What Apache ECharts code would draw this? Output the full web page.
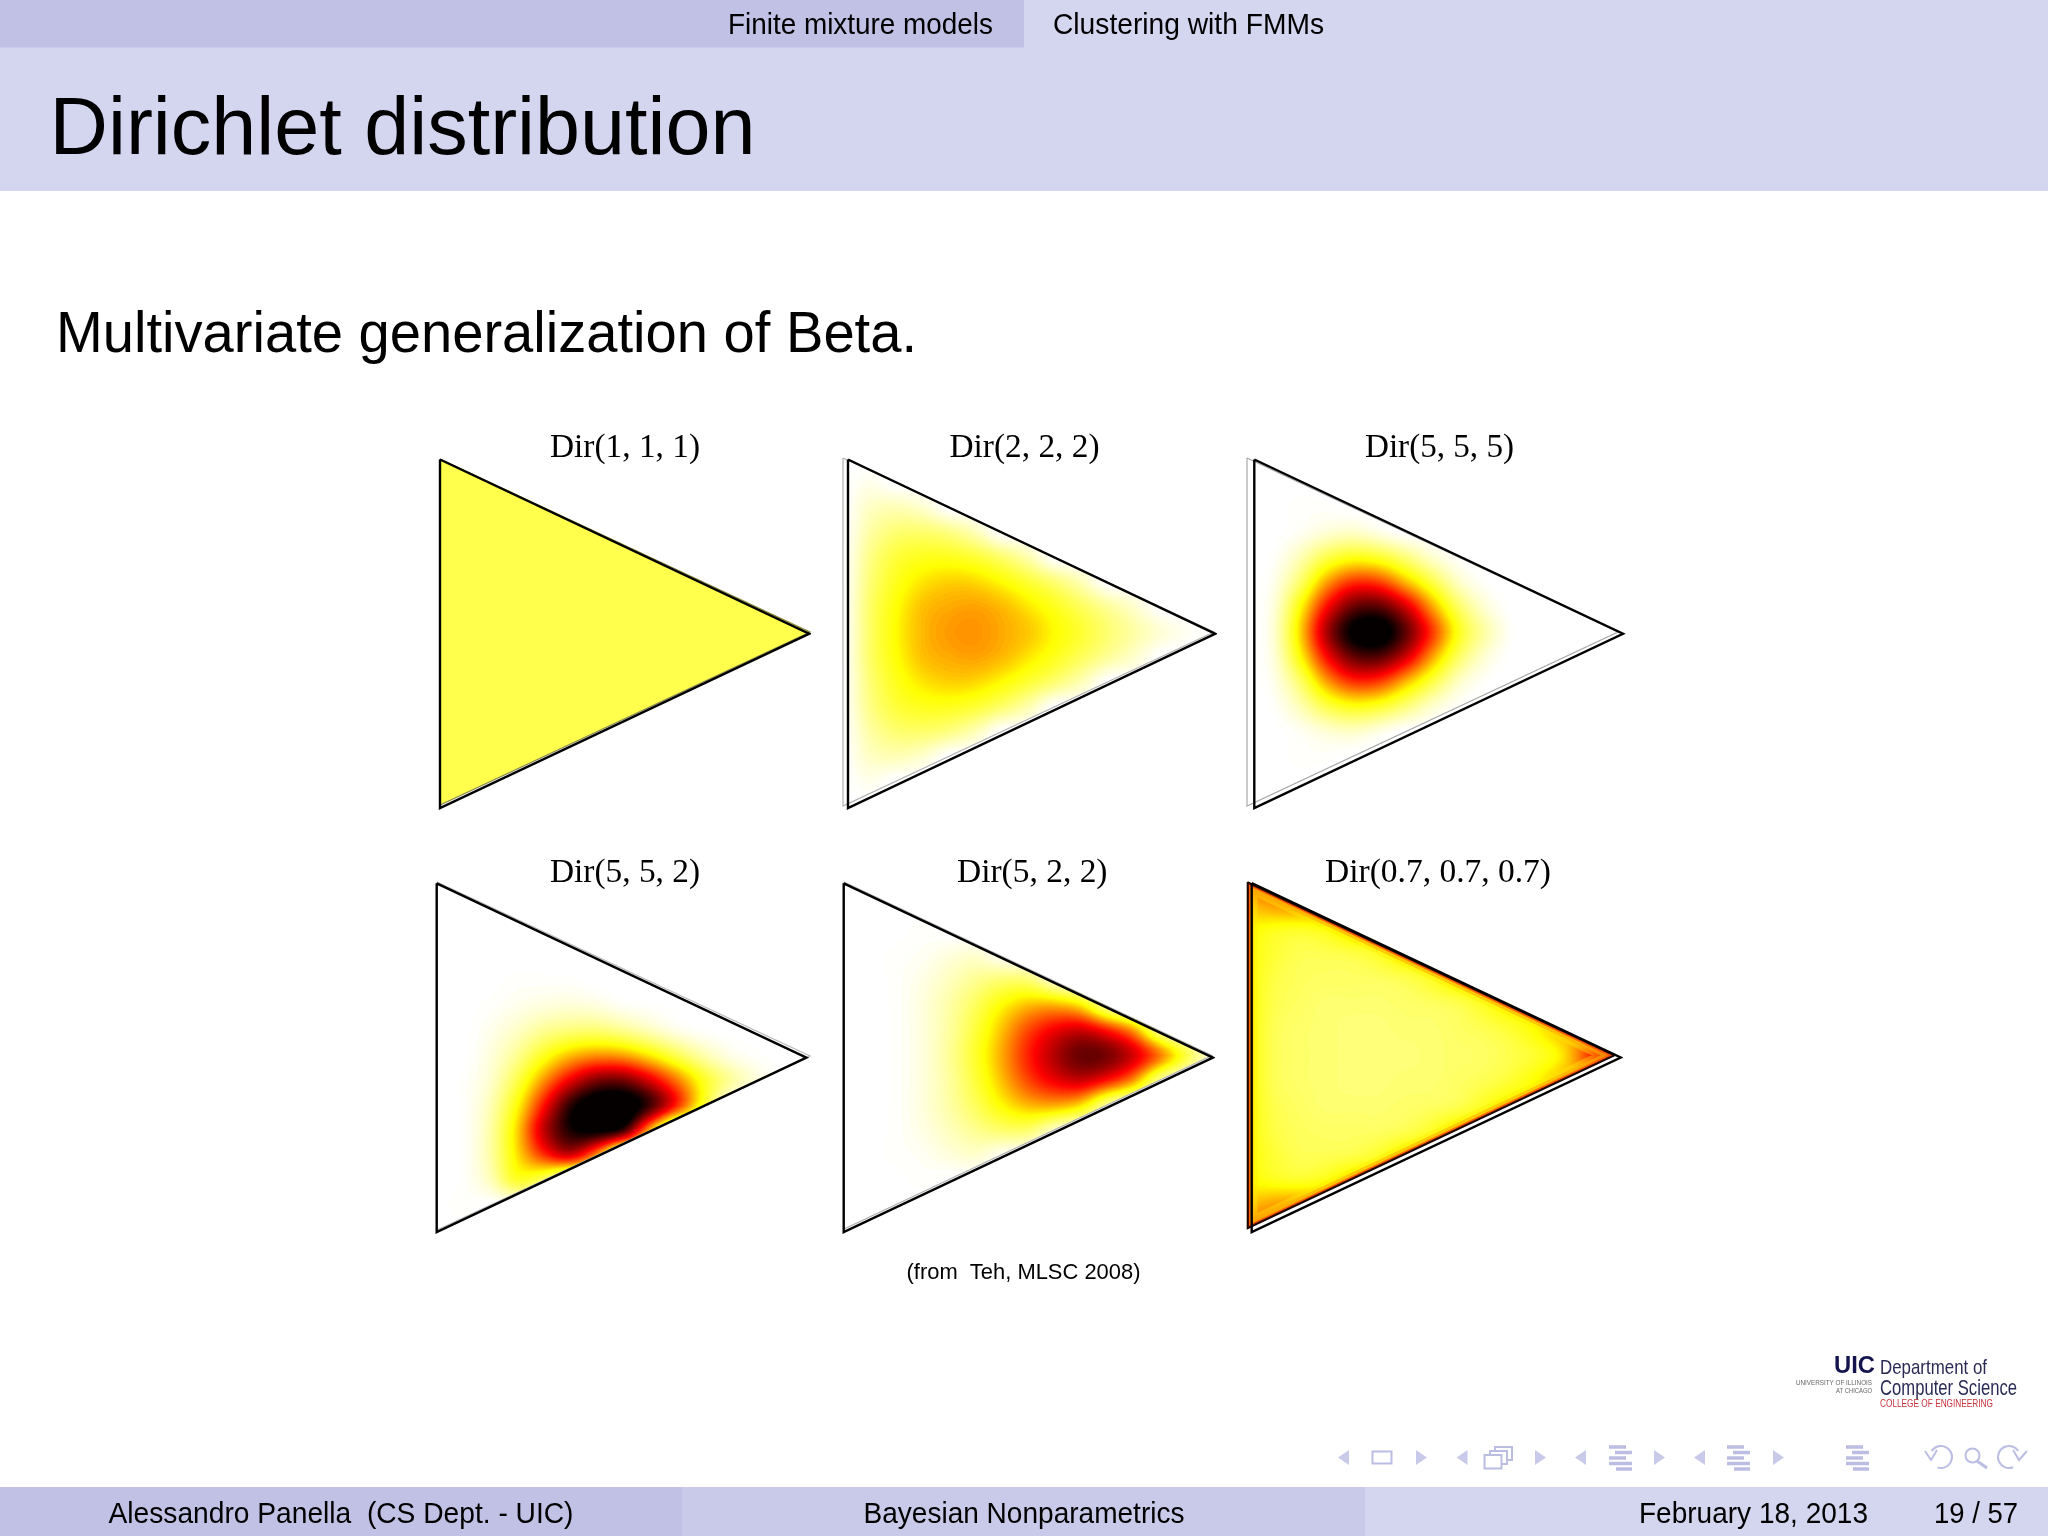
<!DOCTYPE html>
<html><head><meta charset="utf-8">
<style>html,body{margin:0;padding:0;background:#fff}#c{width:2048px;height:1536px}</style>
<script src="https://cdn.jsdelivr.net/npm/echarts@6/dist/echarts.min.js"></script>
</head><body><div id="c"></div>
<script>
// Estimated density (percent of colour scale); rows top to bottom, cells left to right.
const dir111 = [
[24,24],[24,24,24,24],[24,24,24,24,24,24],[24,24,24,24,24,24,24,24],[24,24,24,24,24,24,24,24,24,24],
[24,24,24,24,24,24,24,24,24,24,24,24],[24,24,24,24,24,24,24,24,24,24,24,24,24,24],
[24,24,24,24,24,24,24,24,24,24,24,24,24,24,24,24],
[24,24,24,24,24,24,24,24,24,24,24,24,24,24],[24,24,24,24,24,24,24,24,24,24,24,24],
[24,24,24,24,24,24,24,24,24,24],[24,24,24,24,24,24,24,24],[24,24,24,24,24,24],[24,24,24,24],[24,24]];
const dir222 = [
[0,0],[0,3,0,0],[0,8,10,7,0,0],[0,12,19,20,17,10,0,0],[0,16,26,30,30,27,20,11,0,0],
[0,18,30,37,40,39,34,27,19,10,0,0],[0,20,33,42,45,46,43,37,30,22,14,7,0,0],
[0,20,34,43,47,48,45,41,34,27,19,12,6,2,0,0],
[0,20,33,42,45,46,43,37,30,22,14,7,0,0],[0,18,30,37,40,39,34,27,19,10,0,0],
[0,16,26,30,30,27,20,11,0,0],[0,12,19,20,17,10,0,0],[0,8,10,7,0,0],[0,3,0,0],[0,0]];
const dir555 = [
[0,0],[0,0,0,0],[0,0,1,1,0,0],[0,0,2,6,8,4,0,0],[0,1,10,24,31,28,18,7,1,0],
[0,3,20,46,61,59,43,25,8,1,0,0],[0,5,33,66,87,89,73,46,21,6,0,0,0,0],
[0,6,39,78,102,106,88,60,30,12,1,0,0,0,0,0],
[0,5,33,66,87,89,73,46,21,6,0,0,0,0],[0,3,20,46,61,59,43,25,8,1,0,0],
[0,1,10,24,31,28,18,7,1,0],[0,0,2,6,8,4,0,0],[0,0,1,1,0,0],[0,0,0,0],[0,0]];
const dir552 = [
[0,0],[0,0,0,0],[0,0,0,0,0,0],[0,0,0,0,0,0,0,0],[0,0,0,1,1,1,0,0,0,0],
[0,0,1,3,5,6,5,2,1,0,0,0],[0,0,3,8,15,19,20,16,10,4,1,0,0,0],
[0,0,5,15,30,43,49,47,37,24,12,4,1,0,0,0],
[0,1,7,24,48,70,85,86,72,52,30,14,5,0],[0,1,10,33,65,95,108,108,92,62,28,0],
[0,1,12,39,75,97,102,92,42,0],[0,1,12,37,60,72,46,0],[0,1,9,28,20,0],[0,1,0,0],[0,0]];
const dir522 = [
[0,0],[0,0,0,0],[0,0,0,1,0,0],[0,0,1,2,5,7,2,0],[0,0,1,4,9,15,20,20,8,0],
[0,0,1,5,12,22,34,43,45,38,14,0],[0,0,1,5,13,26,42,58,69,74,65,48,15,0],
[0,0,1,5,14,28,45,63,77,87,85,73,52,26,5,0],
[0,0,1,5,13,26,42,58,69,74,65,48,15,0],[0,0,1,5,12,22,34,43,45,38,14,0],
[0,0,1,4,9,15,20,20,8,0],[0,0,1,2,5,7,2,0],[0,0,0,1,0,0],[0,0,0,0],[0,0]];
const dir777 = [
[55,55],[42,46,48,48],[34,30,28,31,38,38],[33,27,23,23,24,28,35,35],[33,25,22,21,21,21,23,28,35,35],
[33,24,21,19,19,19,20,21,23,29,35,35],[33,23,20,19,18,18,19,19,21,23,27,34,42,42],
[33,23,20,19,18,18,18,19,20,21,24,28,37,60,85,85],
[33,23,20,19,18,18,19,19,21,23,27,34,42,42],[33,24,21,19,19,19,20,21,23,29,35,35],
[33,25,22,21,21,21,23,28,35,35],[33,27,23,23,24,28,35,35],[34,30,28,31,38,38],[42,46,48,48],[55,55]];
const panelTables = [dir111, dir222, dir555, dir552, dir522, dir777];
const panelLabels = ['Dir(1, 1, 1)','Dir(2, 2, 2)','Dir(5, 5, 5)','Dir(5, 5, 2)','Dir(5, 2, 2)','Dir(0.7, 0.7, 0.7)'];
const simplexOutline = [[0,0],[14,7],[0,14],[0,0]];
const contourLevels = [0.5,1.5,2.5,3.5,4.5,5.5,6.5,7.5,8.5,9.5,10.5,11.5,12.5,13.5,14.5,15.5,16.5,17.5,18.5,19.5,20.5,21.5,22.5,23.5,24.5,25.5,26.5,27.5,28.5,29.5,30.5,31.5,32.5,33.5,34.5,35.5,36.5,37.5,38.5,39.5,40.5,41.5,42.5,43.5,44.5,45.5,46.5,47.5,48.5,49.5,50.5,51.5,52.5,53.5,54.5,55.5,56.5,57.5,58.5,59.5,60.5,61.5,62.5,63.5,64.5,65.5,66.5,67.5,68.5,69.5,70.5,71.5,72.5,73.5,74.5,75.5,76.5,77.5,78.5,79.5,80.5,81.5,82.5,83.5,84.5,85.5,86.5,87.5,88.5,89.5,90.5,91.5,92.5,93.5,94.5,95.5,96.5,97.5,98.5,99.5];
const hotColors = ['#ffffff','#ffff80','#ffff00','#ff8000','#ff0000','#800000','#000000'];

// layout of fill frames and outline frames: left, top, width, height
const fillFrames = [[440,459,370,346],[843,458,371,348],[1247,458,371,348],[437,882,373,348],[844,882,368,347],[1247.5,882,367.5,346.5]];
const lineFrames = [[440,459.5,369,348.5],[848,459.5,367,348.5],[1254.3,459.5,368.7,348.5],[436.7,883.3,369.7,348.7],[843.7,883.3,369.2,348.7],[1251.7,883,369,349]];
const ghostColors = ['#8a8a50','#b0b0b0','#a8a8a8','#b8b8b8','#b0b0b0','#1a0800'];
const labelBoxes = [[550,150,459.3],[949.5,150,459.3],[1365,149,459.3],[550,150,884.6],[957,150.5,884.6],[1325,226,884.6]];
const bandStrokes = [[20,'rgba(255,235,0,0.4)'],[12,'rgba(255,170,0,0.6)'],[6,'rgba(255,70,0,0.75)'],[3,'rgba(70,0,0,0.85)']];
const SUB = 4;

// smooth display of a typed table between its cells
function lookup(t,i,j){const r=t[Math.max(0,Math.min(14,j))];return r[Math.max(0,Math.min(r.length-1,i))];}
function cr(a,b,c,d,s){return b+.5*s*(c-a+s*(2*a-5*b+4*c-d+s*(3*(b-c)+d-a)));}
function sample(t,x,y){const i=Math.floor(x),j=Math.floor(y),fx=x-i,fy=y-j,col=[];
  for(let m=-1;m<3;m++)col.push(cr(lookup(t,i-1,j+m),lookup(t,i,j+m),lookup(t,i+1,j+m),lookup(t,i+2,j+m),fx));
  return cr(col[0],col[1],col[2],col[3],fy);}
const fineTables = panelTables.map(t=>{const n=14*SUB,m=[];
  for(let j=0;j<=n;j++){const r=[];for(let i=0;i<=n;i++)r.push(sample(t,i/SUB,j/SUB));m.push(r);}return m;});

echarts.graphic.registerShape('levelRegion',echarts.graphic.extendShape({
  type:'levelRegion',shape:{polys:[]},
  buildPath(ctx,shape){for(const p of shape.polys){ctx.moveTo(p[0],p[1]);
    for(let k=2;k<p.length;k+=2)ctx.lineTo(p[k],p[k+1]);ctx.closePath();}}
}));
function regionAbove(f,level,api){const polys=[],n=14*SUB;
  const pt=(x,y)=>api.coord([x/SUB,y/SUB]);
  for(let j=0;j<n;j++){let run=-1;
    for(let i=0;i<=n;i++){
      const full=i<n&&f[j][i]>=level&&f[j][i+1]>=level&&f[j+1][i]>=level&&f[j+1][i+1]>=level;
      if(full){if(run<0)run=i;continue;}
      if(run>=0){const a=pt(run,j),b=pt(i,j+1);polys.push([a[0],a[1],b[0],a[1],b[0],b[1],a[0],b[1]]);run=-1;}
      if(i==n)break;
      const cs=[[i,j,f[j][i]],[i+1,j,f[j][i+1]],[i+1,j+1,f[j+1][i+1]],[i,j+1,f[j+1][i]]];
      const out=[];
      for(let k=0;k<4;k++){const A=cs[k],B=cs[(k+1)%4],ai=A[2]>=level,bi=B[2]>=level;
        if(ai){const q=pt(A[0],A[1]);out.push(q[0],q[1]);}
        if(ai!==bi){const s=(level-A[2])/(B[2]-A[2]),q=pt(A[0]+s*(B[0]-A[0]),A[1]+s*(B[1]-A[1]));out.push(q[0],q[1]);}}
      if(out.length>=6)polys.push(out);
    }}
  return polys;}

const cvs = document.createElement('canvas').getContext('2d');
function fit(text,x,base,w,size,o){o=o||{};
  const fam=o.fam||'"Liberation Sans"',wt=o.bold?'bold ':'',font=wt+size+'px '+fam;
  cvs.font=font;const m=cvs.measureText(text).width;const mid=o.fam?0.3375:0.3465;
  return {type:'text',x:x,y:base-mid*size,scaleX:w/m,silent:true,z:10,
    style:{text:text,font:font,fill:o.fill||'#000',align:'left',verticalAlign:'middle'}};}
const rect=(x,y,w,h,fill)=>({type:'rect',silent:true,z:0,shape:{x,y,width:w,height:h},style:{fill}});
const navC='#bcbde3';
function larr(x){return {type:'polygon',silent:true,shape:{points:[[x+11,1450],[x+11,1465],[x,1457.5]]},style:{fill:navC,opacity:.8}};}
function rarr(x){return {type:'polygon',silent:true,shape:{points:[[x,1450],[x,1465],[x+11,1457.5]]},style:{fill:navC,opacity:.8}};}
const barRows=[[1447,0,17],[1452.5,6,17],[1458,0,17],[1463.5,0,23],[1469,7,16]];
function bars(x){return barRows.map(b=>rect(x+b[1],b[0]-1.75,b[2],3.5,navC));}
const chrome=[
 rect(0,0,2048,191,'#d4d5ef'),rect(0,0,1024,47.5,'#c0c1e5'),
 rect(0,1487,682,49,'#c0c1e5'),rect(682,1487,683,49,'#c9cae9'),rect(1365,1487,683,49,'#d4d5ef'),
 fit('Finite mixture models',728,35.6,265,29),fit('Clustering with FMMs',1053,35.6,271,29),
 fit('Dirichlet distribution',49.5,160,706,81),
 fit('Multivariate generalization of Beta.',56,356.5,861,58),
 fit('(from  Teh, MLSC 2008)',906.5,1280.6,234,21.7),
 fit('Alessandro Panella  (CS Dept. - UIC)',108.5,1524.6,465,29),
 fit('Bayesian Nonparametrics',863.5,1524.6,321,29),
 fit('February 18, 2013',1639,1524.6,229,29),fit('19 / 57',1934,1524.6,84,29),
 fit('UIC',1834,1375,41,23,{bold:true,fill:'#14144e'}),
 fit('Department of',1880,1375,107,21,{fill:'#2a2a55'}),
 fit('Computer Science',1880,1397,137,22,{fill:'#2a2a55'}),
 fit('COLLEGE OF ENGINEERING',1880,1408,113,10,{fill:'#c8323c'}),
 fit('UNIVERSITY OF ILLINOIS',1796,1385,76,7,{fill:'#666'}),
 fit('AT CHICAGO',1836,1393,36,7,{fill:'#666'}),
 larr(1338),{type:'rect',silent:true,shape:{x:1372.5,y:1451.5,width:19,height:12},style:{fill:'none',stroke:navC,lineWidth:2}},rarr(1416),
 larr(1456.5),
 {type:'rect',silent:true,shape:{x:1495,y:1447,width:17,height:13},style:{fill:'#fff',stroke:navC,lineWidth:2}},
 {type:'rect',silent:true,shape:{x:1490,y:1451,width:17,height:13},style:{fill:'#fff',stroke:navC,lineWidth:2}},
 {type:'rect',silent:true,shape:{x:1484.5,y:1455,width:17,height:13.5},style:{fill:'#fff',stroke:navC,lineWidth:2}},
 rarr(1535),larr(1575),...bars(1609),rarr(1654),larr(1694),...bars(1727),rarr(1773),...bars(1846),
 {type:'arc',silent:true,shape:{cx:1941,cy:1457,r:11,startAngle:-2.6,endAngle:1.9},style:{fill:'none',stroke:navC,lineWidth:2}},
 {type:'polyline',silent:true,shape:{points:[[1925,1451],[1931,1460],[1937,1450]]},style:{fill:'none',stroke:navC,lineWidth:2}},
 {type:'circle',silent:true,shape:{cx:1972.5,cy:1455.5,r:7},style:{fill:'none',stroke:navC,lineWidth:2}},
 {type:'line',silent:true,shape:{x1:1977,y1:1461,x2:1987,y2:1468},style:{stroke:navC,lineWidth:3}},
 {type:'arc',silent:true,shape:{cx:2009,cy:1457,r:11,startAngle:1.2,endAngle:5.7},style:{fill:'none',stroke:navC,lineWidth:2}},
 {type:'polyline',silent:true,shape:{points:[[2013,1450],[2019,1460],[2027,1451]]},style:{fill:'none',stroke:navC,lineWidth:2}},
 ...panelLabels.map((t,i)=>fit(t,labelBoxes[i][0],labelBoxes[i][2],labelBoxes[i][1],33,{fam:'"Liberation Serif"'}))
];

const grid=[],xAxis=[],yAxis=[],series=[],cellSeries=[];
function addGrid(f){grid.push({left:f[0],top:f[1],width:f[2],height:f[3],show:false});
  xAxis.push({type:'value',min:0,max:14,show:false,gridIndex:grid.length-1});
  yAxis.push({type:'value',min:0,max:14,inverse:true,show:false,gridIndex:grid.length-1});
  return grid.length-1;}
function clipOf(api){return {type:'polygon',shape:{points:simplexOutline.slice(0,3).map(p=>api.coord(p))}};}
panelTables.forEach((table,p)=>{
  const g=addGrid(fillFrames[p]);const fine=fineTables[p];
  cellSeries.push(series.length);
  series.push({type:'custom',xAxisIndex:g,yAxisIndex:g,z:2,silent:true,animation:false,
    data:contourLevels.map(l=>[l]),encode:{x:-1,y:-1},
    renderItem(params,api){const polys=regionAbove(fine,api.value(0),api);
      if(!polys.length)return null;
      return {type:'levelRegion',clipPath:clipOf(api),shape:{polys:polys},style:{fill:api.visual('color')}};}});
  if(table===dir777){
    series.push({type:'custom',xAxisIndex:g,yAxisIndex:g,z:3,silent:true,animation:false,data:[[0,0]],
      renderItem(params,api){const pts=simplexOutline.slice(0,3).map(q=>api.coord(q));
        return {type:'group',children:bandStrokes.map(b=>({type:'polygon',clipPath:clipOf(api),shape:{points:pts},style:{fill:'none',stroke:b[1],lineWidth:b[0],lineJoin:'miter'}}))};}});
  }
  series.push({type:'line',xAxisIndex:g,yAxisIndex:g,z:4,silent:true,animation:false,clip:false,symbol:'none',data:simplexOutline,
    lineStyle:{color:ghostColors[p],width:p==5?1.6:1.2,join:'miter'}});
  const h=addGrid(lineFrames[p]);
  series.push({type:'line',xAxisIndex:h,yAxisIndex:h,z:5,silent:true,animation:false,clip:false,symbol:'none',data:simplexOutline,
    lineStyle:{color:'#000',width:2.4,join:'miter'}});
});
const chart=echarts.init(document.getElementById('c'),null,{width:2048,height:1536,renderer:'canvas'});
chart.setOption({animation:false,backgroundColor:'#fff',grid,xAxis,yAxis,series,graphic:{elements:chrome},
  tooltip:{show:false},
  visualMap:{type:'continuous',show:false,min:0,max:100,dimension:0,seriesIndex:cellSeries,inRange:{color:hotColors}}});
</script></body></html>
